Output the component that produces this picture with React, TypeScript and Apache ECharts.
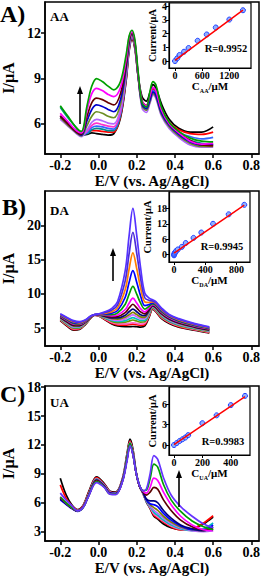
import React, { useEffect, useRef } from "react";
import * as echarts from "echarts";

// ---------- Panel A (AA) : potentials (V) and currents (µA) ----------
const XA = [-0.2, -0.16, -0.12, -0.09, -0.06, -0.035, -0.01, 0.02, 0.05, 0.08, 0.115, 0.145, 0.16, 0.175, 0.19, 0.207, 0.228, 0.25, 0.27, 0.285, 0.3, 0.33, 0.37, 0.42, 0.48, 0.54, 0.6];
const A_black = [6.4, 5.9, 5.5, 5.25, 5.3, 5.4, 5.35, 5.3, 5.25, 5.35, 6.4, 8.9, 10.8, 11.6, 11.0, 9.2, 7.8, 7.5, 8.1, 8.6, 8.4, 7.3, 6.3, 5.7, 5.45, 5.45, 5.8];
const A_red = [6.5, 6.0, 5.6, 5.45, 5.45, 5.55, 5.55, 5.5, 5.45, 5.45, 6.5, 9.0, 10.9, 11.7, 11.1, 9.2, 7.5, 7.2, 7.8, 8.3, 8.1, 7.0, 6.1, 5.6, 5.35, 5.3, 5.45];
const A_teal = [7.1, 6.4, 5.8, 5.35, 5.35, 5.6, 5.7, 5.65, 5.55, 5.55, 6.6, 9.1, 11.0, 11.8, 11.2, 9.2, 7.3, 7.0, 7.6, 8.1, 7.9, 6.8, 5.9, 5.3, 4.9, 4.7, 4.6];
const A_blue2 = [6.4, 5.9, 5.45, 5.2, 5.4, 5.75, 5.85, 5.8, 5.7, 5.65, 6.7, 9.2, 11.0, 11.8, 11.2, 9.2, 7.4, 7.1, 7.7, 8.2, 8.0, 6.9, 6.0, 5.45, 5.15, 5.0, 5.1];
const A_pink = [6.6, 6.05, 5.55, 5.25, 5.5, 5.9, 6.05, 5.95, 5.85, 5.8, 6.8, 9.3, 11.1, 11.85, 11.25, 9.2, 7.2, 6.9, 7.5, 8.0, 7.8, 6.7, 5.8, 5.2, 4.75, 4.6, 4.7];
const A_violet = [6.3, 5.85, 5.4, 5.15, 5.6, 6.1, 6.3, 6.2, 6.05, 6.0, 7.0, 9.4, 11.2, 11.9, 11.3, 9.2, 7.05, 6.75, 7.4, 7.9, 7.7, 6.5, 5.7, 5.1, 4.6, 4.45, 4.45];
const A_olive = [6.4, 5.9, 5.45, 5.2, 5.9, 6.5, 6.8, 6.7, 6.5, 6.4, 7.3, 9.6, 11.3, 11.9, 11.3, 9.2, 7.2, 6.9, 7.5, 8.0, 7.8, 6.6, 5.8, 5.2, 4.7, 4.5, 4.5];
const A_blue = [6.5, 6.0, 5.5, 5.25, 6.2, 6.95, 7.25, 7.15, 6.95, 6.8, 7.6, 9.8, 11.4, 12.0, 11.4, 9.3, 7.3, 7.0, 7.6, 8.1, 7.9, 6.7, 5.9, 5.3, 4.8, 4.6, 4.6];
const A_maroon = [6.5, 6.0, 5.5, 5.3, 6.5, 7.4, 7.7, 7.6, 7.4, 7.25, 8.0, 10.0, 11.5, 12.0, 11.4, 9.3, 7.5, 7.2, 7.9, 8.4, 8.2, 6.9, 6.0, 5.4, 4.9, 4.6, 4.55];
const A_magenta = [6.7, 6.15, 5.6, 5.4, 6.9, 8.0, 8.35, 8.2, 7.95, 7.8, 8.4, 10.3, 11.7, 12.1, 11.5, 9.4, 7.5, 7.2, 7.9, 8.4, 8.2, 6.9, 6.0, 5.4, 4.85, 4.65, 4.7];
const A_green = [7.2, 6.5, 5.8, 5.5, 7.2, 8.5, 9.0, 8.8, 8.5, 8.25, 8.8, 10.6, 11.8, 12.2, 11.6, 9.5, 7.4, 7.1, 8.2, 8.8, 8.6, 7.1, 6.1, 5.5, 5.05, 4.85, 4.8];
const A_CURVES = [A_black, A_red, A_teal, A_blue2, A_pink, A_violet, A_olive, A_blue, A_maroon, A_magenta, A_green];
const A_COLORS = ["#000000", "#ff0000", "#008b8b", "#3366ff", "#ff33cc", "#b266ff", "#6b8e23", "#0000cc", "#660000", "#ff00ff", "#00a000"];

// ---------- Panel B (DA) ----------
const XB = [-0.2, -0.16, -0.13, -0.1, -0.07, -0.04, -0.02, 0.0, 0.03, 0.07, 0.1, 0.14, 0.16, 0.18, 0.2, 0.22, 0.242, 0.265, 0.283, 0.3, 0.33, 0.37, 0.42, 0.5, 0.58];
const B_black = [6.10, 5.20, 4.70, 4.80, 5.50, 6.50, 6.90, 6.80, 6.30, 5.61, 5.32, 5.21, 5.21, 5.25, 5.21, 5.16, 5.32, 6.61, 7.80, 7.40, 6.40, 5.70, 5.15, 4.70, 4.30];
const B_red = [6.17, 5.29, 4.80, 4.88, 5.55, 6.52, 6.91, 6.82, 6.36, 5.73, 5.48, 5.44, 5.51, 5.60, 5.51, 5.42, 5.54, 6.76, 7.87, 7.50, 6.50, 5.79, 5.24, 4.77, 4.36];
const B_pink = [6.24, 5.39, 4.90, 4.96, 5.60, 6.54, 6.91, 6.84, 6.43, 5.85, 5.64, 5.62, 5.70, 5.80, 5.71, 5.61, 5.72, 6.89, 7.94, 7.58, 6.60, 5.89, 5.33, 4.84, 4.43];
const B_olivegreen = [6.31, 5.48, 5.00, 5.05, 5.65, 6.56, 6.92, 6.86, 6.50, 5.98, 5.81, 5.88, 6.04, 6.20, 6.05, 5.89, 5.95, 7.05, 8.01, 7.67, 6.71, 5.98, 5.42, 4.91, 4.49];
const B_cyan = [6.39, 5.57, 5.10, 5.13, 5.70, 6.59, 6.93, 6.89, 6.57, 6.12, 5.98, 6.11, 6.34, 6.55, 6.35, 6.13, 6.15, 7.19, 8.08, 7.76, 6.81, 6.07, 5.51, 4.99, 4.56];
const B_violet = [6.46, 5.66, 5.20, 5.21, 5.75, 6.61, 6.94, 6.91, 6.63, 6.25, 6.15, 6.37, 6.68, 6.95, 6.69, 6.41, 6.38, 7.34, 8.15, 7.85, 6.91, 6.16, 5.60, 5.06, 4.62];
const B_olive = [6.53, 5.76, 5.30, 5.29, 5.80, 6.63, 6.94, 6.93, 6.70, 6.38, 6.32, 6.61, 6.98, 7.30, 7.00, 6.66, 6.59, 7.48, 8.23, 7.93, 7.01, 6.26, 5.69, 5.13, 4.69];
const B_navy = [6.60, 5.85, 5.40, 5.38, 5.85, 6.65, 6.95, 6.95, 6.77, 6.51, 6.50, 6.90, 7.40, 7.80, 7.41, 6.98, 6.83, 7.64, 8.30, 8.03, 7.12, 6.35, 5.78, 5.20, 4.75];
const B_maroon = [6.67, 5.94, 5.50, 5.46, 5.90, 6.67, 6.96, 6.97, 6.83, 6.65, 6.70, 7.27, 7.95, 8.50, 7.97, 7.38, 7.09, 7.81, 8.37, 8.13, 7.22, 6.44, 5.86, 5.27, 4.81];
const B_magenta = [6.74, 6.04, 5.60, 5.54, 5.95, 6.69, 6.96, 6.99, 6.91, 6.80, 6.93, 7.73, 8.65, 9.40, 8.68, 7.87, 7.38, 7.99, 8.46, 8.23, 7.33, 6.54, 5.95, 5.34, 4.88];
const B_green = [6.81, 6.13, 5.70, 5.62, 6.00, 6.71, 6.97, 7.01, 6.98, 6.98, 7.23, 8.51, 9.94, 11.10, 9.98, 8.69, 7.80, 8.22, 8.57, 8.35, 7.44, 6.63, 6.04, 5.41, 4.94];
const B_blue = [6.89, 6.22, 5.80, 5.70, 6.05, 6.74, 6.98, 7.04, 7.07, 7.20, 7.59, 9.52, 11.67, 13.40, 11.73, 9.75, 8.30, 8.47, 8.70, 8.47, 7.56, 6.72, 6.13, 5.49, 5.01];
const B_orange = [6.96, 6.31, 5.90, 5.79, 6.10, 6.76, 6.99, 7.06, 7.16, 7.41, 7.98, 10.66, 13.61, 16.00, 13.70, 10.95, 8.86, 8.76, 8.84, 8.61, 7.69, 6.81, 6.22, 5.56, 5.07];
const B_violet2 = [7.03, 6.41, 6.00, 5.87, 6.15, 6.78, 6.99, 7.08, 7.26, 7.65, 8.42, 11.96, 15.85, 19.00, 15.97, 12.32, 9.46, 9.06, 8.99, 8.74, 7.82, 6.91, 6.31, 5.63, 5.14];
const B_blueviolet = [7.10, 6.50, 6.10, 5.95, 6.20, 6.80, 7.00, 7.10, 7.35, 7.90, 8.90, 13.45, 18.45, 22.50, 18.60, 13.90, 10.15, 9.40, 9.15, 8.90, 7.95, 7.00, 6.40, 5.70, 5.20];
const B_CURVES = [B_black, B_red, B_pink, B_olivegreen, B_cyan, B_violet, B_olive, B_navy, B_maroon, B_magenta, B_green, B_blue, B_orange, B_violet2, B_blueviolet];
const B_COLORS = ["#000000", "#ff0000", "#ff66cc", "#669900", "#00bfbf", "#cc66ff", "#808000", "#000080", "#5a0000", "#ff00ff", "#00a000", "#0000ff", "#ff7f00", "#4b2bd8", "#5533ff"];

// ---------- Panel C (UA) ----------
const XC = [-0.2, -0.17, -0.14, -0.11, -0.08, -0.05, -0.01, 0.03, 0.06, 0.09, 0.125, 0.15, 0.165, 0.18, 0.198, 0.215, 0.233, 0.25, 0.27, 0.29, 0.31, 0.34, 0.38, 0.43, 0.49, 0.55, 0.6];
const C_black = [8.55, 6.85, 5.8, 5.3, 5.75, 7.2, 8.7, 8.0, 7.2, 7.1, 8.5, 11.2, 12.6, 11.6, 9.1, 7.7, 6.95, 6.1, 5.4, 4.6, 4.3, 3.8, 3.4, 3.2, 3.3, 3.8, 4.5];
const C_red = [7.86, 6.5, 5.7, 5.25, 5.7, 7.1, 8.6, 7.9, 7.15, 7.05, 8.45, 11.0, 12.4, 11.4, 9.0, 7.7, 6.95, 6.2, 5.5, 4.7, 4.4, 4.0, 3.5, 3.2, 3.3, 3.9, 4.65];
const C_pink = [6.6, 6.05, 5.55, 5.2, 5.65, 7.0, 8.5, 7.85, 7.1, 7.0, 8.4, 10.9, 12.3, 11.3, 9.0, 7.7, 7.0, 6.2, 5.5, 4.85, 4.55, 4.1, 3.6, 3.25, 3.1, 3.2, 3.3];
const C_cyan = [6.5, 5.95, 5.5, 5.15, 5.6, 6.95, 8.45, 7.8, 7.05, 7.0, 8.35, 10.8, 12.2, 11.25, 9.0, 7.7, 7.0, 6.2, 5.6, 5.0, 4.7, 4.2, 3.7, 3.3, 3.1, 3.3, 3.9];
const C_lilac = [6.4, 5.9, 5.45, 5.15, 5.6, 6.9, 8.4, 7.8, 7.05, 7.0, 8.35, 10.8, 12.2, 11.2, 9.0, 7.7, 7.05, 6.25, 5.7, 5.2, 4.9, 4.4, 3.85, 3.4, 3.1, 3.0, 3.1];
const C_olive = [6.5, 5.95, 5.45, 5.15, 5.6, 6.9, 8.4, 7.75, 7.0, 6.95, 8.3, 10.7, 12.1, 11.15, 9.0, 7.7, 7.05, 6.3, 5.8, 5.5, 5.2, 4.6, 4.0, 3.5, 3.2, 3.1, 3.3];
const C_blue = [6.3, 5.85, 5.4, 5.1, 5.55, 6.85, 8.35, 7.75, 7.0, 6.95, 8.3, 10.7, 12.1, 11.1, 9.0, 7.7, 7.1, 6.3, 5.9, 5.8, 5.6, 4.9, 4.2, 3.6, 3.2, 3.2, 3.7];
const C_navy = [6.4, 5.9, 5.45, 5.15, 5.55, 6.85, 8.3, 7.7, 6.95, 6.9, 8.25, 10.6, 12.0, 11.1, 9.0, 7.7, 7.1, 6.4, 6.2, 6.2, 6.0, 5.2, 4.4, 3.7, 3.3, 3.1, 3.5];
const C_maroon = [6.5, 5.95, 5.45, 5.15, 5.55, 6.8, 8.3, 7.7, 6.95, 6.9, 8.25, 10.6, 12.0, 11.05, 9.0, 7.7, 7.15, 6.8, 7.1, 7.6, 7.4, 6.3, 5.2, 4.2, 3.5, 3.2, 3.3];
const C_magenta = [6.6, 6.0, 5.5, 5.15, 5.55, 6.8, 8.2, 7.65, 6.9, 6.9, 8.2, 10.6, 12.0, 11.05, 9.0, 7.75, 7.2, 7.0, 7.6, 8.55, 8.3, 7.1, 5.8, 4.6, 3.7, 3.2, 3.1];
const C_green = [6.6, 6.0, 5.5, 5.15, 5.5, 6.8, 8.2, 7.65, 6.9, 6.9, 8.2, 10.7, 12.2, 11.1, 9.0, 7.8, 7.25, 7.3, 8.5, 10.0, 9.7, 7.9, 6.3, 5.1, 4.1, 3.5, 3.2];
const C_violet = [7.0, 6.3, 5.7, 5.15, 5.5, 6.75, 8.1, 7.6, 6.9, 6.85, 8.15, 10.4, 11.9, 11.0, 9.0, 7.8, 7.25, 7.4, 9.0, 10.9, 10.5, 8.6, 6.8, 5.6, 4.6, 3.8, 3.4];
const C_CURVES = [C_black, C_red, C_pink, C_cyan, C_lilac, C_olive, C_blue, C_navy, C_maroon, C_magenta, C_green, C_violet];
const C_COLORS = ["#000000", "#ff0000", "#ff66cc", "#00bfbf", "#b266ff", "#808000", "#0000ff", "#000080", "#5a0000", "#ff00ff", "#00a000", "#6633ff"];

// ---------- Insets: concentration (µM) vs current (µA) ----------
const AA_conc = [0, 50, 100, 200, 300, 500, 700, 900, 1200, 1500];
const AA_curr = [0, 0.2, 0.44, 0.68, 0.95, 1.48, 1.94, 2.45, 3.03, 3.71];
const AA_fitX = [0, 1500];
const AA_fitY = [0.05, 3.72];
const DA_conc = [0, 2, 5, 10, 20, 30, 50, 100, 150, 250, 350, 500, 700, 900];
const DA_curr = [-0.3, 0.0, 0.3, 0.7, 1.0, 1.5, 2.0, 3.0, 4.5, 6.5, 8.6, 12.0, 15.7, 19.4];
const DA_fitX = [0, 900];
const DA_fitY = [0.6, 19.3];
const UA_conc = [0, 20, 40, 60, 80, 100, 200, 300, 400, 500];
const UA_curr = [0, 0.3, 0.6, 0.85, 1.1, 1.45, 3.2, 4.35, 5.85, 7.2];
const UA_fitX = [0, 500];
const UA_fitY = [0.05, 7.1];

// tick labels
const X_TICKS = [-0.2, 0, 0.2, 0.4, 0.6, 0.8];
const A_YTICKS = [6, 9, 12];
const B_YTICKS = [5, 10, 15, 20];
const C_YTICKS = [3, 6, 9, 12, 15, 18];
const AA_XTICKS = [0, 600, 1200];
const AA_YTICKS = [0, 1, 2, 3, 4];
const DA_XTICKS = [0, 400, 800];
const DA_YTICKS = [0, 6, 12, 18];
const UA_XTICKS = [0, 200, 400];
const UA_YTICKS = [0, 3, 6];
const R_TEXTS = ["R=0.9952", "R=0.9945", "R=0.9983"];

const FONT = '"Liberation Serif", "Times New Roman", serif';

function mainX(gi: number) {
  return {
    type: "value", gridIndex: gi, min: -0.28, max: 0.84,
    axisLine: { show: true, onZero: false, lineStyle: { color: "#000", width: 1.5 } },
    axisTick: { show: true, length: 4, customValues: X_TICKS, lineStyle: { color: "#000", width: 1.5 } },
    axisLabel: { show: true, customValues: X_TICKS, formatter: (v: number) => v.toFixed(1), fontFamily: FONT, fontWeight: "bold", fontSize: 14, color: "#000", margin: 4 },
    splitLine: { show: false },
    name: "E/V (vs. Ag/AgCl)", nameLocation: "middle", nameGap: 19,
    nameTextStyle: { fontFamily: FONT, fontWeight: "bold", fontSize: 15, color: "#000" },
  };
}
function mainY(gi: number, min: number, max: number, ticks: number[]) {
  return {
    type: "value", gridIndex: gi, min, max,
    axisLine: { show: true, onZero: false, lineStyle: { color: "#000", width: 1.5 } },
    axisTick: { show: true, length: 4, customValues: ticks, lineStyle: { color: "#000", width: 1.5 } },
    axisLabel: { show: true, customValues: ticks, formatter: (v: number) => String(v), fontFamily: FONT, fontWeight: "bold", fontSize: 14, color: "#000", margin: 4 },
    splitLine: { show: false },
    name: "I/μA", nameLocation: "middle", nameGap: 24,
    nameTextStyle: { fontFamily: FONT, fontWeight: "bold", fontSize: 16, color: "#000" },
  };
}
function insetX(gi: number, min: number, max: number, ticks: number[], sub: string) {
  return {
    type: "value", gridIndex: gi, min, max,
    axisLine: { show: true, onZero: false, lineStyle: { color: "#000", width: 1.2 } },
    axisTick: { show: true, length: 3, customValues: ticks, lineStyle: { color: "#000", width: 1 } },
    axisLabel: { show: true, customValues: ticks, formatter: (v: number) => String(v), fontFamily: FONT, fontWeight: "bold", fontSize: 10, color: "#000", margin: 2 },
    splitLine: { show: false },
    name: "{m|C}{s|" + sub + "}{m|/μM}", nameLocation: "middle", nameGap: 9,
    nameTextStyle: {
      rich: {
        m: { fontFamily: FONT, fontWeight: "bold", fontSize: 11, color: "#000", lineHeight: 13, verticalAlign: "top" },
        s: { fontFamily: FONT, fontWeight: "bold", fontSize: 6, color: "#000", padding: [6, 0, 0, 0], verticalAlign: "bottom" },
      },
    },
  };
}
function insetY(gi: number, min: number, max: number, ticks: number[]) {
  return {
    type: "value", gridIndex: gi, min, max,
    axisLine: { show: true, onZero: false, lineStyle: { color: "#000", width: 1.2 } },
    axisTick: { show: true, length: 3, customValues: ticks, lineStyle: { color: "#000", width: 1 } },
    axisLabel: { show: true, customValues: ticks, formatter: (v: number) => String(v), fontFamily: FONT, fontWeight: "bold", fontSize: 10, color: "#000", margin: 2 },
    splitLine: { show: false },
    name: "Current/μA", nameLocation: "middle", nameGap: 11,
    nameTextStyle: { fontFamily: FONT, fontWeight: "bold", fontSize: 10.5, color: "#000" },
  };
}

function curveSeries(X: number[], curves: number[][], colors: string[], gi: number) {
  return curves.map((Y, k) => ({
    type: "line", xAxisIndex: gi, yAxisIndex: gi,
    data: X.map((x, i) => [x, Y[i]]),
    symbol: "none", showSymbol: false, smooth: 0.35, silent: true,
    lineStyle: { color: colors[k], width: 1.7 }, itemStyle: { color: colors[k] },
  }));
}
function insetSeries(cx: number[], cy: number[], fx: number[], fy: number[], gi: number) {
  return [
    {
      type: "scatter", xAxisIndex: gi, yAxisIndex: gi, silent: true,
      data: cx.map((x, i) => [x, cy[i]]), symbol: "circle", symbolSize: 5,
      itemStyle: { color: "#8fb0ff", borderColor: "#1f3fff", borderWidth: 1, opacity: 1 },
    },
    {
      type: "line", xAxisIndex: gi, yAxisIndex: gi, silent: true, z: 5,
      data: fx.map((x, i) => [x, fy[i]]), symbol: "none", showSymbol: false,
      lineStyle: { color: "#ff0000", width: 1.5 },
    },
  ];
}

function txt(text: string, x: number, y: number, size: number, align = "left") {
  return {
    type: "text", x, y, silent: true, z: 100,
    style: { text, font: `bold ${size}px ${FONT}`, fill: "#000", align, verticalAlign: "middle" },
  };
}
function arrow(x: number, y1: number, y2: number) {
  return [
    { type: "line", silent: true, z: 100, shape: { x1: x, y1, x2: x, y2: y2 + 6 }, style: { stroke: "#000", lineWidth: 1.6 } },
    { type: "polygon", silent: true, z: 100, shape: { points: [[x - 3, y2 + 8], [x + 3, y2 + 8], [x, y2]] }, style: { fill: "#000" } },
  ];
}

export default function App() {
  const ref = useRef<HTMLDivElement>(null);
  useEffect(() => {
    if (!ref.current) return;
    const chart = echarts.init(ref.current, undefined, { renderer: "svg" });
    const gridBase = { show: true, borderColor: "#000", borderWidth: 1.5, containLabel: false, outerBoundsMode: "none" };
    const option: any = {
      animation: false,
      backgroundColor: "#fff",
      textStyle: { fontFamily: FONT },
      grid: [
        { ...gridBase, left: 45, top: 2, width: 214, height: 152 },
        { ...gridBase, left: 45, top: 191, width: 214, height: 155 },
        { ...gridBase, left: 45, top: 386, width: 214, height: 155 },
        { ...gridBase, borderWidth: 1.2, backgroundColor: "#fff", left: 169, top: 3, width: 82, height: 65 },
        { ...gridBase, borderWidth: 1.2, backgroundColor: "#fff", left: 169, top: 192, width: 81, height: 70 },
        { ...gridBase, borderWidth: 1.2, backgroundColor: "#fff", left: 169, top: 387, width: 81, height: 68 },
      ],
      xAxis: [
        mainX(0), mainX(1), mainX(2),
        insetX(3, -132, 1678, AA_XTICKS, "AA"),
        insetX(4, -64, 973, DA_XTICKS, "DA"),
        insetX(5, -35, 535, UA_XTICKS, "UA"),
      ],
      yAxis: [
        mainY(0, 4.0, 14.07, A_YTICKS),
        mainY(1, 2.4, 25.05, B_YTICKS),
        mainY(2, 2.03, 18.12, C_YTICKS),
        insetY(3, -0.51, 4.24, AA_YTICKS),
        insetY(4, -2.9, 24.4, DA_YTICKS),
        insetY(5, -1.46, 8.5, UA_YTICKS),
      ],
      series: [
        ...curveSeries(XA, A_CURVES, A_COLORS, 0),
        ...curveSeries(XB, B_CURVES, B_COLORS, 1),
        ...curveSeries(XC, C_CURVES, C_COLORS, 2),
        ...insetSeries(AA_conc, AA_curr, AA_fitX, AA_fitY, 3),
        ...insetSeries(DA_conc, DA_curr, DA_fitX, DA_fitY, 4),
        ...insetSeries(UA_conc, UA_curr, UA_fitX, UA_fitY, 5),
      ],
      graphic: [
        txt("A)", 0, 14, 24),
        txt("B)", 2, 207, 24),
        txt("C)", 0, 394, 24),
        txt("AA", 50, 16, 13),
        txt("DA", 50, 210, 13),
        txt("UA", 50, 402, 13),
        txt(R_TEXTS[0], 226, 48, 10.5, "center"),
        txt(R_TEXTS[1], 222, 246, 10.5, "center"),
        txt(R_TEXTS[2], 223, 441, 10.5, "center"),
        ...arrow(80, 124, 86),
        ...arrow(113, 281, 248),
        ...arrow(179, 507, 470),
      ],
    };
    chart.setOption(option);
    return () => chart.dispose();
  }, []);
  return <div ref={ref} style={{ position: "fixed", left: 0, top: 0, width: 263, height: 578 }} />;
}
